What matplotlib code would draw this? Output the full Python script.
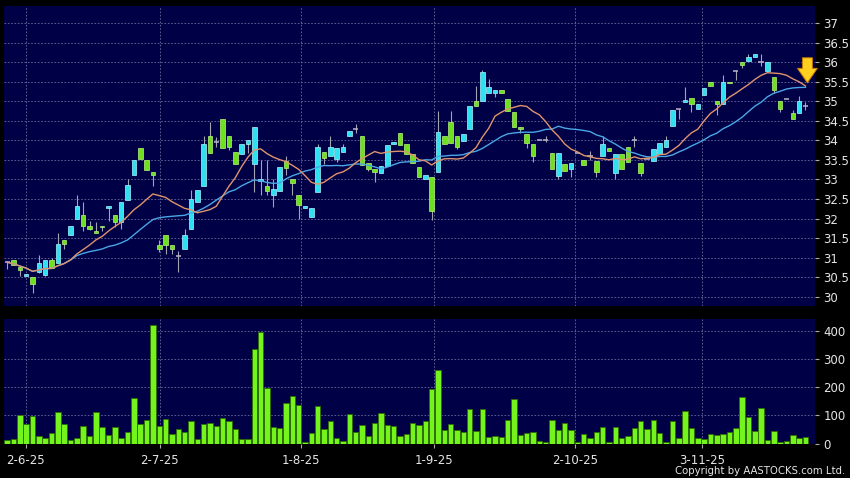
import matplotlib
matplotlib.use("Agg")
import matplotlib.pyplot as plt
import numpy as np
import pandas as pd

# daily candles (open, high, low, close)
opens = [30.88, 30.94, 30.77, 30.52, 30.51, 30.62, 30.56, 30.94, 30.86, 31.45,
         31.57, 32.00, 32.10, 31.82, 31.68, 31.82, 32.26, 32.09, 31.90, 32.48,
         33.11, 33.81, 33.50, 33.20, 31.32, 31.57, 31.32, 31.04, 31.21, 31.73,
         32.41, 32.82, 34.12, 33.97, 34.54, 34.12, 33.70, 33.65, 33.90, 33.39,
         32.96, 32.84, 32.60, 32.71, 33.47, 33.00, 32.59, 32.28, 32.05, 32.69,
         33.70, 33.60, 33.52, 33.70, 34.12, 34.29, 34.12, 33.43, 33.26, 33.16,
         33.35, 33.90, 34.18, 33.90, 33.65, 33.31, 33.01, 33.07, 33.19, 34.11,
         34.48, 34.10, 33.98, 34.29, 35.00, 35.01, 35.22, 35.22, 35.30, 35.07,
         34.72, 34.35, 34.16, 33.90, 34.00, 34.00, 33.67, 33.10, 33.39, 33.28,
         33.67, 33.50, 33.59, 33.48, 33.59, 33.80, 33.16, 33.64, 33.82, 34.00,
         33.42, 33.52, 33.47, 33.64, 33.82, 34.36, 34.80, 34.97, 35.08, 34.81,
         35.17, 35.49, 35.00, 34.93, 35.49, 35.77, 36.00, 36.02, 36.14, 36.00,
         35.77, 35.62, 35.00, 35.07, 34.70, 34.70, 34.88]
highs = [30.90, 30.95, 30.77, 30.57, 30.51, 31.06, 30.94, 30.99, 31.62, 31.45,
         31.82, 32.61, 32.42, 31.94, 31.90, 31.82, 32.31, 32.09, 32.42, 33.02,
         33.50, 33.81, 33.50, 33.20, 31.45, 31.57, 31.32, 31.17, 31.73, 32.73,
         32.72, 34.12, 34.48, 34.08, 34.54, 34.12, 33.70, 33.90, 34.00, 34.34,
         33.50, 33.50, 33.00, 33.33, 33.60, 33.00, 32.59, 32.32, 32.28, 33.90,
         33.70, 34.12, 33.80, 33.92, 34.24, 34.42, 34.12, 33.43, 33.26, 33.35,
         33.88, 33.96, 34.18, 33.90, 33.65, 33.31, 33.12, 33.07, 34.76, 34.11,
         34.76, 34.10, 34.16, 34.88, 35.40, 35.80, 35.58, 35.30, 35.30, 35.07,
         34.72, 34.35, 34.16, 33.90, 34.02, 34.10, 33.67, 33.67, 33.39, 33.43,
         33.67, 33.50, 33.72, 33.48, 34.10, 33.80, 33.64, 33.64, 33.82, 34.10,
         33.42, 33.52, 33.78, 33.93, 34.10, 34.77, 34.80, 35.37, 35.08, 34.93,
         35.34, 35.49, 35.00, 35.68, 35.49, 35.80, 36.00, 36.20, 36.21, 36.20,
         36.00, 35.62, 35.00, 35.07, 34.78, 35.13, 34.98]
lows = [30.72, 30.80, 30.53, 30.52, 30.10, 30.60, 30.52, 30.74, 30.86, 31.21,
        31.57, 32.00, 31.68, 31.70, 31.63, 31.68, 31.94, 31.77, 31.73, 32.48,
        33.11, 33.52, 33.25, 32.82, 31.15, 31.09, 31.10, 30.62, 31.21, 31.73,
        32.41, 32.82, 33.67, 33.84, 33.80, 33.75, 33.39, 33.65, 33.67, 32.69,
        32.60, 32.60, 32.29, 32.71, 33.12, 32.59, 31.98, 32.28, 32.05, 32.69,
        33.40, 33.60, 33.45, 33.70, 34.12, 34.20, 33.37, 33.22, 32.94, 33.16,
        33.35, 33.90, 33.88, 33.65, 33.43, 33.07, 33.01, 31.96, 33.19, 33.90,
        33.93, 33.78, 33.98, 34.29, 34.87, 35.01, 35.22, 35.12, 35.20, 34.75,
        34.35, 34.20, 33.80, 33.45, 34.00, 33.95, 33.26, 33.00, 33.22, 33.07,
        33.67, 33.36, 33.50, 33.07, 33.59, 33.73, 33.00, 33.26, 33.44, 33.82,
        33.10, 33.52, 33.47, 33.64, 33.82, 34.36, 34.55, 34.97, 34.72, 34.81,
        35.17, 35.40, 34.65, 34.93, 35.46, 35.55, 35.85, 36.02, 36.14, 35.90,
        35.77, 35.22, 34.72, 35.07, 34.55, 34.70, 34.78]
closes = [30.88, 30.80, 30.67, 30.57, 30.32, 30.85, 30.94, 30.74, 31.35, 31.35,
          31.82, 32.31, 31.80, 31.72, 31.63, 31.77, 32.31, 31.90, 32.42, 32.87,
          33.50, 33.52, 33.25, 33.11, 31.21, 31.32, 31.21, 31.04, 31.57, 32.51,
          32.72, 33.91, 33.67, 33.97, 33.80, 33.84, 33.39, 33.90, 34.00, 34.34,
          33.01, 32.71, 32.75, 33.33, 33.29, 32.90, 32.35, 32.32, 32.28, 33.82,
          33.54, 33.82, 33.80, 33.82, 34.24, 34.29, 33.37, 33.26, 33.18, 33.35,
          33.88, 33.96, 33.88, 33.65, 33.43, 33.07, 33.12, 32.18, 34.21, 33.90,
          33.93, 33.84, 34.16, 34.88, 34.87, 35.76, 35.36, 35.30, 35.20, 34.75,
          34.35, 34.29, 33.93, 33.60, 34.00, 34.00, 33.26, 33.67, 33.22, 33.43,
          33.67, 33.36, 33.59, 33.19, 33.90, 33.73, 33.64, 33.26, 33.44, 34.00,
          33.17, 33.52, 33.78, 33.93, 34.00, 34.77, 34.80, 35.04, 34.92, 34.93,
          35.34, 35.40, 34.93, 35.49, 35.46, 35.77, 35.93, 36.13, 36.21, 36.00,
          36.00, 35.30, 34.80, 35.07, 34.55, 35.00, 34.88]
volumes = [13, 15, 100, 68, 98, 26, 20, 38, 112, 70,
           12, 21, 63, 28, 111, 59, 31, 60, 19, 41,
           162, 71, 85, 419, 63, 87, 35, 52, 41, 81,
           15, 71, 73, 61, 92, 79, 52, 17, 17, 334,
           394, 196, 59, 54, 143, 168, 137, 7, 39, 132,
           51, 79, 19, 8, 105, 41, 67, 27, 72, 109,
           65, 64, 28, 33, 74, 66, 79, 193, 260, 48,
           70, 48, 41, 123, 45, 123, 22, 28, 24, 85,
           157, 31, 37, 40, 8, 5, 84, 48, 72, 48,
           6, 34, 19, 41, 60, 5, 58, 21, 27, 57,
           81, 53, 83, 39, 5, 79, 19, 114, 55, 21,
           18, 33, 32, 35, 42, 55, 164, 94, 45, 127,
           12, 45, 6, 8, 31, 20, 24]

date_labels = ["2-6-25", "2-7-25", "1-8-25", "1-9-25", "2-10-25", "3-11-25"]
date_pos = [2.9, 24.1, 46.4, 67.4, 89.6, 109.7]

price_ticks = np.arange(30, 37.01, 0.5)
vol_ticks = [0, 100, 200, 300, 400]

o = np.array(opens)
h = np.array(highs)
l = np.array(lows)
c = np.array(closes)
x = np.arange(len(c))

ma10 = pd.Series(c).rolling(10, min_periods=1).mean()
ma20 = pd.Series(c).rolling(20, min_periods=1).mean()

NAVY = "#000046"
GRID = "#6b6b9c"
TXT = "#e6e6e6"
CYAN = "#2fe0f0"
GREEN = "#6ee01e"

fig = plt.figure(figsize=(8.5, 4.78), dpi=100, facecolor="black")
ax = fig.add_axes([4 / 850, 1 - 306 / 478, 811 / 850, 300 / 478])
axv = fig.add_axes([4 / 850, 1 - 444 / 478, 811 / 850, 125 / 478])

for a in (ax, axv):
    a.set_facecolor(NAVY)
    for s in a.spines.values():
        s.set_visible(False)
    a.set_xlim(-0.5, 127.5)
    a.yaxis.tick_right()
    a.tick_params(axis="y", colors="#aaaaaa", labelcolor=TXT, labelsize=8.5,
                  length=3, width=0.8, pad=3)
    a.set_xticks(date_pos)
    for xp in date_pos:
        a.axvline(xp, color=GRID, lw=0.6, ls=(0, (2, 2)), zorder=1)

# price panel
ax.set_ylim(29.76, 37.44)
ax.set_yticks(price_ticks)
ax.set_yticklabels(["%g" % t for t in price_ticks])
for t in price_ticks:
    ax.axhline(t, color=GRID, lw=0.6, ls=(0, (2, 2)), zorder=1)
ax.tick_params(axis="x", length=0, labelbottom=False)

ax.vlines(x, l, h, color="#a3a3b3", lw=0.8, zorder=2)
up = c > o
dn = c < o
eq = c == o
ax.bar(x[up], (c - o)[up], bottom=o[up], width=0.72, color=CYAN,
       edgecolor="#a8f6ff", lw=0.5, zorder=3)
ax.bar(x[dn], (o - c)[dn], bottom=c[dn], width=0.72, color=GREEN,
       edgecolor="#b6f57a", lw=0.5, zorder=3)
ax.hlines(c[eq], x[eq] - 0.42, x[eq] + 0.42, color="#b8b8c8", lw=1.1, zorder=3)

ax.plot(x, ma20, color="#4aa6e6", lw=1.0, zorder=4)
ax.plot(x, ma10, color="#e0946c", lw=1.0, zorder=4)

# marker arrow above the end of the moving averages
ax.annotate("", xy=(x[-1] + 0.3, ma10.iloc[-1] + 0.08),
            xytext=(x[-1] + 0.3, ma10.iloc[-1] + 0.72),
            arrowprops=dict(arrowstyle="simple,head_length=0.8,head_width=1.1,tail_width=0.55",
                            fc="#ffd01e", ec="#c97a00", lw=0.7, mutation_scale=13,
                            shrinkA=0, shrinkB=0),
            zorder=6)

# volume panel
axv.set_ylim(-1, 441)
axv.set_yticks(vol_ticks)
for t in vol_ticks[1:]:
    axv.axhline(t, color=GRID, lw=0.6, ls=(0, (2, 2)), zorder=1)
axv.bar(x, volumes, width=0.86, color="#74f41c", edgecolor="#2e6e00",
        lw=0.6, zorder=3)
axv.set_xticklabels(date_labels)
axv.tick_params(axis="x", colors="#aaaaaa", labelcolor=TXT, labelsize=8.5,
                length=3, width=0.8, pad=4)

fig.text(845 / 850, 1 - 471 / 478, "Copyright by AASTOCKS.com Ltd.",
         color=TXT, fontsize=7.3, ha="right", va="center")

fig.savefig("out.png", dpi=100, facecolor="black")
